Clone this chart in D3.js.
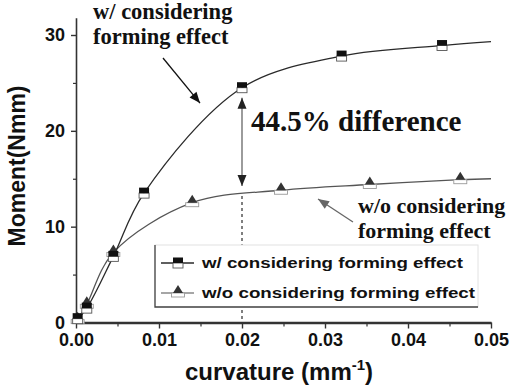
<!DOCTYPE html>
<html>
<head>
<meta charset="utf-8">
<script src="https://cdn.jsdelivr.net/npm/d3@7"></script>
<style>
body { margin: 0; background: #fff; }
svg text { fill: #111; }
</style>
</head>
<body>
<svg id="chart" width="526" height="390"></svg>
<script>
'use strict';
// curvature (mm^-1) vs moment (Nmm)
let withX = [0.0002, 0.0013, 0.0045, 0.0082, 0.0200, 0.0320, 0.0441, 0.0500];
let withY = [0.4, 1.5, 6.9, 13.5, 24.5, 27.8, 28.9, 29.3];
let withMarked = [true, true, true, true, true, true, true, false];

let withoutX = [0.0002, 0.0013, 0.0045, 0.0140, 0.0247, 0.0354, 0.0463, 0.0500];
let withoutY = [0.3, 1.9, 7.3, 12.5, 13.8, 14.4, 14.9, 15.0];
let withoutMarked = [true, true, true, true, true, true, true, false];

let seriesNames = ["w/ considering forming effect", "w/o considering forming effect"];

let xTicks = [0, 0.01, 0.02, 0.03, 0.04, 0.05];
let xMinor = [0.005, 0.015, 0.025, 0.035, 0.045];
let yTicks = [0, 10, 20, 30];
let yMinor = [5, 15, 25];

// the 44.5% gap annotation
let diffAt = 0.02;
let diffValues = [24.5, 13.4];

let svg = d3.select("#chart");
svg.append("rect").attr("width", 526).attr("height", 390).attr("fill", "#fff");

let x = d3.scaleLinear().domain([0, 0.05]).range([76, 491]);
let y = d3.scaleLinear().domain([0, 30]).range([322.5, 35]);
let yTop = 31.8;
let yAxisScale = d3.scaleLinear().domain([0, yTop]).range([y(0), y(yTop)]);

const sans = "'Liberation Sans', Arial, sans-serif";
const serif = "'Liberation Serif', 'Times New Roman', serif";

function points(xs, ys, flags) {
    return xs.map((v, i) => ({x: v, y: ys[i], marked: flags[i]}));
}
let withData = points(withX, withY, withMarked);
let withoutData = points(withoutX, withoutY, withoutMarked);

// axes
let gx = svg.append("g")
    .attr("transform", "translate(0," + y(0) + ")")
    .call(d3.axisBottom(x).tickValues(xTicks).tickSize(6).tickSizeOuter(0)
        .tickPadding(5).tickFormat(d3.format(".2f")));
gx.select(".domain").attr("stroke", "#333").attr("stroke-width", 2.4);
gx.selectAll(".tick line").attr("stroke", "#333").attr("stroke-width", 1.4);
gx.selectAll("text").style("font", "bold 18px " + sans).attr("fill", "#111");

let gxm = svg.append("g")
    .attr("transform", "translate(0," + y(0) + ")")
    .call(d3.axisBottom(x).tickValues(xMinor).tickSize(4).tickFormat(""));
gxm.select(".domain").remove();
gxm.selectAll(".tick line").attr("stroke", "#333").attr("stroke-width", 1.2);

let gy = svg.append("g")
    .attr("transform", "translate(" + x(0) + ",0)")
    .call(d3.axisLeft(yAxisScale).tickValues(yTicks).tickSize(5).tickSizeOuter(0)
        .tickPadding(6));
gy.select(".domain").attr("stroke", "#333").attr("stroke-width", 1.6);
gy.selectAll(".tick line").attr("stroke", "#333").attr("stroke-width", 1.4);
gy.selectAll("text").style("font", "bold 18px " + sans).attr("fill", "#111");

let gym = svg.append("g")
    .attr("transform", "translate(" + x(0) + ",0)")
    .call(d3.axisLeft(yAxisScale).tickValues(yMinor).tickSize(3).tickFormat(""));
gym.select(".domain").remove();
gym.selectAll(".tick line").attr("stroke", "#333").attr("stroke-width", 1.2);

// axis titles
svg.append("text")
    .attr("transform", "translate(25,166) rotate(-90)")
    .attr("text-anchor", "middle")
    .style("font", "bold 23px " + sans)
    .text("Moment(Nmm)");

let xt = svg.append("text")
    .attr("x", 185).attr("y", 380)
    .style("font", "bold 24px " + sans);
xt.append("tspan").text("curvature (mm");
xt.append("tspan").attr("dy", -10).style("font-size", "15px").text("-1");
xt.append("tspan").attr("dy", 10).style("font-size", "24px").text(")");

// curves
let line = d3.line()
    .curve(d3.curveCatmullRom)
    .x(d => x(d.x))
    .y(d => y(d.y));

svg.append("path")
    .attr("d", line(withoutData))
    .attr("fill", "none").attr("stroke", "#555").attr("stroke-width", 1.3);
svg.append("path")
    .attr("d", line(withData))
    .attr("fill", "none").attr("stroke", "#2a2a2a").attr("stroke-width", 1.3);

function squareMarker(g, cx, cy) {
    g.append("rect").attr("x", cx - 5).attr("y", cy).attr("width", 10).attr("height", 5)
        .attr("fill", "#fff").attr("stroke", "#555").attr("stroke-width", 0.9);
    g.append("rect").attr("x", cx - 5).attr("y", cy - 5.5).attr("width", 10).attr("height", 5.5)
        .attr("fill", "#111");
}

function triangleMarker(g, cx, cy) {
    g.append("rect").attr("x", cx - 6.5).attr("y", cy).attr("width", 13).attr("height", 4)
        .attr("fill", "#fff").attr("stroke", "#999").attr("stroke-width", 0.9);
    g.append("path")
        .attr("d", "M" + cx + "," + (cy - 8) + "L" + (cx + 5) + "," + cy + "L" + (cx - 5) + "," + cy + "Z")
        .attr("fill", "#333");
}

let markers = svg.append("g");
withoutData.filter(d => d.marked).forEach(d => triangleMarker(markers, x(d.x), y(d.y)));
withData.filter(d => d.marked).forEach(d => squareMarker(markers, x(d.x), y(d.y)));

// dashed drop line at 0.02
svg.append("line")
    .attr("x1", x(diffAt)).attr("x2", x(diffAt))
    .attr("y1", y(diffValues[1]) + 2).attr("y2", y(0) - 1)
    .attr("stroke", "#555").attr("stroke-width", 1.5).attr("stroke-dasharray", "3,3");

// arrows
function arrowHead(px, py, angle, len, w, color) {
    let bx = px - len * Math.cos(angle), by = py - len * Math.sin(angle);
    let nx = -Math.sin(angle) * w / 2, ny = Math.cos(angle) * w / 2;
    svg.append("path")
        .attr("d", "M" + px + "," + py + "L" + (bx + nx) + "," + (by + ny) + "L" + (bx - nx) + "," + (by - ny) + "Z")
        .attr("fill", color);
}

function arrow(x1, y1, x2, y2, color, both) {
    let a = Math.atan2(y2 - y1, x2 - x1);
    svg.append("line")
        .attr("x1", x1).attr("y1", y1).attr("x2", x2).attr("y2", y2)
        .attr("stroke", color).attr("stroke-width", 1.3);
    arrowHead(x2, y2, a, 11, 9, both ? "#222" : color);
    if (both) arrowHead(x1, y1, a + Math.PI, 11, 9, "#222");
}

arrow(x(0.01048), y(27.6), x(0.01494), y(22.9), "#111", false);
arrow(x(0.03337), y(10.49), x(0.02916), y(12.89), "#666", false);
arrow(x(diffAt), y(diffValues[0]) + 10, x(diffAt), y(diffValues[1]) - 8, "#666", true);

// annotation texts
function serifText(tx, ty, size, str) {
    svg.append("text").attr("x", tx).attr("y", ty)
        .style("font", "bold " + size + "px " + serif)
        .text(str);
}
serifText(93, 19, 22.5, "w/ considering");
serifText(93, 44, 22.5, "forming effect");
serifText(251, 131, 29, "44.5% difference");
serifText(358, 213, 22, "w/o considering");
serifText(358, 238, 22, "forming effect");

// legend
let lg = svg.append("g");
lg.append("rect").attr("x", 155).attr("y", 245).attr("width", 323).attr("height", 62)
    .attr("fill", "#fff").attr("stroke", "#e2e2e2").attr("stroke-width", 1);
lg.append("path").attr("d", "M155,245V307H478")
    .attr("fill", "none").attr("stroke", "#444").attr("stroke-width", 1.3);

let rows = [
    {name: seriesNames[0], ly: 263, ty: 268, len: 261, color: "#2a2a2a", mark: squareMarker},
    {name: seriesNames[1], ly: 293, ty: 298, len: 273, color: "#888", mark: triangleMarker}
];
rows.forEach(r => {
    lg.append("line").attr("x1", 161).attr("x2", 194).attr("y1", r.ly).attr("y2", r.ly)
        .attr("stroke", r.color).attr("stroke-width", 1.3);
    r.mark(lg, 178, r.ly);
    lg.append("text").attr("x", 202).attr("y", r.ty)
        .attr("textLength", r.len).attr("lengthAdjust", "spacingAndGlyphs")
        .style("font", "bold 14.5px " + sans)
        .attr("fill", "#222")
        .text(r.name);
});
</script>
</body>
</html>
